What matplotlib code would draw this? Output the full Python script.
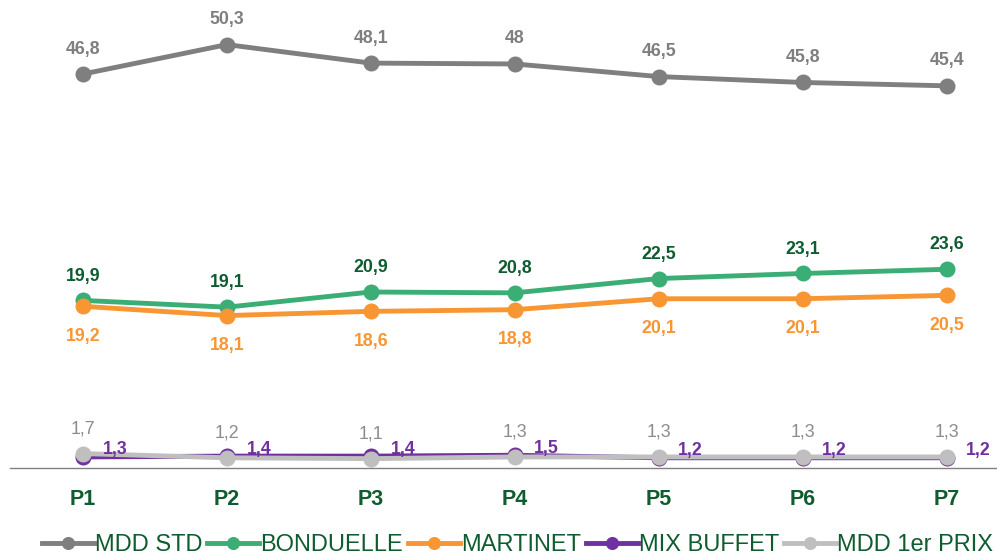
import matplotlib.pyplot as plt

plt.rcParams['font.family'] = ['Liberation Sans', 'DejaVu Sans']

periods = ['P1', 'P2', 'P3', 'P4', 'P5', 'P6', 'P7']
mdd_std = [46.8, 50.3, 48.1, 48.0, 46.5, 45.8, 45.4]
bonduelle = [19.9, 19.1, 20.9, 20.8, 22.5, 23.1, 23.6]
martinet = [19.2, 18.1, 18.6, 18.8, 20.1, 20.1, 20.5]
mix_buffet = [1.3, 1.4, 1.4, 1.5, 1.2, 1.2, 1.2]
mdd_1er_prix = [1.7, 1.2, 1.1, 1.3, 1.3, 1.3, 1.3]

dark_green = '#0E5C2F'

# name, values, colour, label colour, label offset (points), bold
series = [
    ('MDD STD', mdd_std, '#7F7F7F', '#7F7F7F', (0, 18), True),
    ('BONDUELLE', bonduelle, '#3AAE74', dark_green, (0, 17.5), True),
    ('MARTINET', martinet, '#F79633', '#F79633', (0, -21.5), True),
    ('MIX BUFFET', mix_buffet, '#7030A0', '#7030A0', (23, 5), True),
    ('MDD 1er PRIX', mdd_1er_prix, '#BFBFBF', '#8C8C8C', (0, 18), False),
]

fig = plt.figure(figsize=(9.97, 5.59), dpi=100)
ax = fig.add_axes([0.01, 0.163, 0.99, 0.837])
x = list(range(len(periods)))

for name, vals, col, lcol, off, bold in series:
    ax.plot(x, vals, color=col, lw=3.5, marker='o', ms=10.5, label=name)
    for xi, v in zip(x, vals):
        ax.annotate(f'{v:g}'.replace('.', ','), (xi, v), xytext=off,
                    textcoords='offset points', ha='center', va='center',
                    color=lcol, fontsize=12.8,
                    fontweight='bold' if bold else 'normal')

ax.set_xlim(-0.507, 6.35)
ax.set_ylim(0, 55.6)
ax.set_xticks(x)
ax.set_xticklabels(periods, fontsize=15.5, fontweight='bold', color=dark_green)
ax.tick_params(axis='x', length=0, pad=15)
ax.set_yticks([])
for s in ['top', 'right', 'left']:
    ax.spines[s].set_visible(False)
ax.spines['bottom'].set_color('#808080')
ax.spines['bottom'].set_linewidth(1)

leg = fig.legend(loc='lower center', bbox_to_anchor=(0.519, -0.033), ncol=5,
                 frameon=False, fontsize=17, handlelength=2.2,
                 handletextpad=0.05, columnspacing=0.2, markerscale=0.8)
for t in leg.get_texts():
    t.set_color(dark_green)

fig.savefig('out.png', dpi=100)
